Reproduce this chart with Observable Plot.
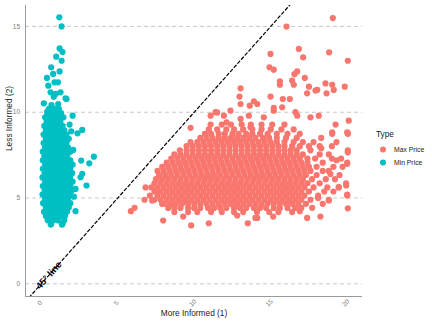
<!DOCTYPE html>
<html>
<head>
<meta charset="utf-8">
<script src="https://cdn.jsdelivr.net/npm/d3@7"></script>
<script src="https://cdn.jsdelivr.net/npm/@observablehq/plot@0.6"></script>
<style>
  body { margin: 0; background: #fff; }
  #wrap { position: relative; width: 432px; height: 324px; font-family: "Liberation Sans", Arial, sans-serif; }
  #legend { position: absolute; left: 376px; top: 129px; color: #222; }
  #legend .title { font-size: 8.3px; margin-bottom: 4px; }
  #legend .item { display: flex; align-items: center; font-size: 6.8px; height: 13px; }
  #legend svg { margin-right: 4px; }
</style>
</head>
<body>
<div id="wrap"></div>
<script>
// ---------- data ----------
const types = ["Max Price", "Min Price"];
const typeColors = ["#F8766D", "#00BFC4"];
const xTicks = [0, 5, 10, 15, 20];
const yTicks = [0, 5, 10, 15];
const xDomain = [-1.03, 21.0];
const yDomain = [-0.74, 16.22];
const xTitle = "More Informed (1)";
const yTitle = "Less Informed (2)";
const legendTitle = "Type";
const lineLabel = "45° line";
const lineLabelAt = 0.5;

// Min Price: dense core read row by row [y, xs]
const minPriceRows = [
  [3.45, [0.62, 1.35]],
  [3.7, [0.42, 0.78, 1.08, 1.5]],
  [3.95, [0.3, 0.6, 0.92, 1.22, 1.55]],
  [4.2, [0.18, 0.45, 0.75, 1.05, 1.38, 1.68]],
  [4.45, [0.3, 0.6, 0.9, 1.2, 1.5, 1.8]],
  [4.7, [0.12, 0.42, 0.72, 1.02, 1.32, 1.62, 1.9]],
  [4.95, [0.25, 0.55, 0.85, 1.15, 1.45, 1.75]],
  [5.2, [0.08, 0.38, 0.68, 0.98, 1.28, 1.58, 1.88]],
  [5.45, [0.22, 0.52, 0.82, 1.12, 1.42, 1.72, 2.0]],
  [5.7, [0.1, 0.4, 0.7, 1.0, 1.3, 1.6, 1.9]],
  [5.95, [0.25, 0.55, 0.85, 1.15, 1.45, 1.75, 2.05]],
  [6.2, [0.08, 0.38, 0.68, 0.98, 1.28, 1.58, 1.88]],
  [6.45, [0.22, 0.52, 0.82, 1.12, 1.42, 1.72, 2.02]],
  [6.7, [0.1, 0.4, 0.7, 1.0, 1.3, 1.6, 1.9]],
  [6.95, [0.25, 0.55, 0.85, 1.15, 1.45, 1.75, 2.05]],
  [7.2, [0.1, 0.4, 0.7, 1.0, 1.3, 1.6, 1.9]],
  [7.45, [0.2, 0.5, 0.8, 1.1, 1.4, 1.7]],
  [7.7, [0.1, 0.4, 0.7, 1.0, 1.3, 1.6, 1.9]],
  [7.95, [0.25, 0.55, 0.85, 1.15, 1.45, 1.75]],
  [8.2, [0.15, 0.45, 0.75, 1.05, 1.35, 1.65]],
  [8.45, [0.3, 0.6, 0.9, 1.2, 1.5, 1.8]],
  [8.7, [0.15, 0.45, 0.75, 1.05, 1.35, 1.65]],
  [8.95, [0.3, 0.6, 0.9, 1.2, 1.5]],
  [9.2, [0.2, 0.5, 0.8, 1.1, 1.4]],
  [9.45, [0.35, 0.65, 0.95, 1.25]],
  [9.7, [0.25, 0.55, 0.85, 1.15, 1.45]],
  [9.95, [0.4, 0.7, 1.0, 1.3]],
  [10.2, [0.5, 0.85, 1.15]]
];
// Min Price: scattered points [x, y]
const minPriceScatter = [
  [1.18,15.53],[1.33,15.0],[1.2,13.72],[1.39,13.51],[0.98,13.24],[1.33,13.0],[0.65,12.62],
  [1.2,12.38],[0.78,12.23],[0.37,12.0],[0.87,11.74],[1.09,11.74],[0.46,11.55],[0.61,11.16],
  [1.26,11.16],[0.95,11.07],[1.59,10.81],[0.17,10.52],[0.67,10.42],[1.11,10.48],[0.39,10.03],
  [2.05,9.8],[1.85,9.28],[2.68,8.97],[2.37,8.77],[1.96,8.89],[2.09,7.8],[3.44,7.41],[2.61,7.18],
  [3.14,7.02],[2.68,6.41],[2.57,6.21],[2.96,5.73],[2.24,5.53],[2.13,5.08],[2.24,4.23],
  [1.39,3.49],[0.65,3.49],[1.65,10.77],[0.82,10.9]
];

// Max Price: dense core read row by row [y, xs]
const maxPriceRows = [
  [4.18, [8.7, 9.6, 10.2, 11.1, 11.8, 12.6, 13.2, 14.1, 14.9, 15.5, 16.4]],
  [4.42, [8.3, 8.7, 9.1, 9.6, 10.0, 10.4, 10.9, 11.3, 11.7, 12.1, 12.6, 13.0, 13.4, 13.9, 14.3, 14.7, 15.2, 15.6, 16.1, 16.6, 17.0]],
  [4.66, [7.9, 8.4, 8.8, 9.2, 9.6, 10.0, 10.4, 10.8, 11.2, 11.6, 12.0, 12.4, 12.8, 13.2, 13.6, 14.0, 14.4, 14.8, 15.2, 15.6, 16.0, 16.4, 16.8, 17.3, 18.4]],
  [4.9, [6.75, 7.4, 7.8, 8.2, 8.6, 9.0, 9.4, 9.8, 10.2, 10.6, 11.0, 11.4, 11.8, 12.2, 12.6, 13.0, 13.4, 13.8, 14.2, 14.6, 15.0, 15.4, 15.8, 16.2, 16.6, 17.0, 17.6, 18.8]],
  [5.14, [7.1, 7.6, 8.0, 8.4, 8.8, 9.2, 9.6, 10.0, 10.4, 10.8, 11.2, 11.6, 12.0, 12.4, 12.8, 13.2, 13.6, 14.0, 14.4, 14.8, 15.2, 15.6, 16.0, 16.4, 16.8, 17.2, 18.1, 20.0]],
  [5.38, [7.4, 7.8, 8.2, 8.6, 9.0, 9.4, 9.8, 10.2, 10.6, 11.0, 11.4, 11.8, 12.2, 12.6, 13.0, 13.4, 13.8, 14.2, 14.6, 15.0, 15.4, 15.8, 16.2, 16.6, 17.0, 17.5, 18.5, 19.1]],
  [5.62, [6.82, 7.2, 7.6, 8.0, 8.4, 8.8, 9.2, 9.6, 10.0, 10.4, 10.8, 11.2, 11.6, 12.0, 12.4, 12.8, 13.2, 13.6, 14.0, 14.4, 14.8, 15.2, 15.6, 16.0, 16.4, 16.8, 17.2, 17.8, 18.7, 19.45]],
  [5.86, [7.4, 7.8, 8.2, 8.6, 9.0, 9.4, 9.8, 10.2, 10.6, 11.0, 11.4, 11.8, 12.2, 12.6, 13.0, 13.4, 13.8, 14.2, 14.6, 15.0, 15.4, 15.8, 16.2, 16.6, 17.0, 17.4, 18.2, 19.93]],
  [6.1, [7.5, 7.9, 8.3, 8.7, 9.1, 9.5, 9.9, 10.3, 10.7, 11.1, 11.5, 11.9, 12.3, 12.7, 13.1, 13.5, 13.9, 14.3, 14.7, 15.1, 15.5, 15.9, 16.3, 16.7, 17.1, 17.7, 18.6, 19.2]],
  [6.34, [7.7, 8.1, 8.5, 8.9, 9.3, 9.7, 10.1, 10.5, 10.9, 11.3, 11.7, 12.1, 12.5, 12.9, 13.3, 13.7, 14.1, 14.5, 14.9, 15.3, 15.7, 16.1, 16.5, 16.9, 17.3, 18.0, 19.5]],
  [6.58, [7.6, 8.0, 8.4, 8.8, 9.2, 9.6, 10.0, 10.4, 10.8, 11.2, 11.6, 12.0, 12.4, 12.8, 13.2, 13.6, 14.0, 14.4, 14.8, 15.2, 15.6, 16.0, 16.4, 16.8, 17.2, 17.6, 18.4, 18.8]],
  [6.82, [7.91, 8.3, 8.7, 9.1, 9.5, 9.9, 10.3, 10.7, 11.1, 11.5, 11.9, 12.3, 12.7, 13.1, 13.5, 13.9, 14.3, 14.7, 15.1, 15.5, 15.9, 16.3, 16.7, 17.1, 17.5, 18.0, 19.1, 19.7]],
  [7.06, [8.2, 8.6, 9.0, 9.4, 9.8, 10.2, 10.6, 11.0, 11.4, 11.8, 12.2, 12.6, 13.0, 13.4, 13.8, 14.2, 14.6, 15.0, 15.4, 15.8, 16.2, 16.6, 17.0, 17.4, 18.4, 20.0]],
  [7.3, [8.5, 8.9, 9.3, 9.7, 10.1, 10.5, 10.9, 11.3, 11.7, 12.1, 12.5, 12.9, 13.3, 13.7, 14.1, 14.5, 14.9, 15.3, 15.7, 16.1, 16.5, 16.9, 17.4, 17.9, 19.0, 19.6]],
  [7.54, [8.7, 9.1, 9.5, 9.9, 10.3, 10.7, 11.1, 11.5, 11.9, 12.3, 12.7, 13.1, 13.5, 13.9, 14.3, 14.7, 15.1, 15.5, 15.9, 16.3, 16.7, 17.1, 18.2, 18.8]],
  [7.78, [9.06, 9.5, 9.9, 10.3, 10.7, 11.1, 11.5, 11.9, 12.3, 12.7, 13.1, 13.5, 13.9, 14.3, 14.7, 15.1, 15.5, 15.9, 16.3, 16.7, 17.6, 20.04]],
  [8.02, [9.5, 9.9, 10.3, 10.7, 11.1, 11.5, 11.9, 12.3, 12.7, 13.1, 13.5, 13.9, 14.3, 14.7, 15.1, 15.5, 15.9, 16.4, 16.9, 17.5, 18.2, 19.0]],
  [8.26, [9.76, 10.2, 10.6, 11.0, 11.4, 11.8, 12.2, 12.6, 13.0, 13.4, 13.8, 14.2, 14.6, 15.0, 15.4, 15.9, 16.5, 17.1, 17.8, 19.3]],
  [8.5, [10.4, 10.8, 11.2, 11.6, 12.0, 12.4, 12.8, 13.2, 13.6, 14.0, 14.5, 14.9, 15.4, 16.0, 16.7, 18.3]],
  [8.74, [10.7, 11.1, 11.6, 12.0, 12.5, 12.9, 13.4, 13.8, 14.3, 14.8, 15.4, 16.1, 16.9, 19.02, 20.04]],
  [9.0, [10.95, 11.5, 12.1, 12.6, 13.2, 13.8, 14.4, 15.0, 15.7, 16.5]],
  [9.28, [11.07, 11.8, 12.4, 13.1, 13.7, 14.4, 15.1, 15.9, 19.24]]
];
// Max Price: scattered points [x, y]
const maxPriceScatter = [
  [19.06,15.49],[16.03,14.99],[14.99,13.4],[16.84,13.69],[18.82,13.49],[17.12,13.2],[20.04,13.0],
  [14.92,12.62],[15.2,12.48],[16.73,12.38],[16.55,12.22],[17.23,12.0],[16.4,11.84],[15.6,11.8],
  [15.6,11.6],[18.58,11.68],[19.02,11.6],[19.84,11.49],[17.5,11.49],[16.51,11.6],[18.04,11.3],
  [17.38,11.1],[17.93,11.26],[18.65,11.1],[19.12,11.3],[13.03,11.39],[12.96,10.91],[14.99,10.91],
  [15.79,10.77],[16.25,10.77],[13.03,10.48],[15.75,10.29],[13.9,10.64],[14.12,10.48],[13.63,10.38],
  [15.2,10.09],[15.2,10.25],[9.76,9.09],[11.07,9.8],[11.39,10.0],[12.37,10.09],[16.62,10.0],[16.73,9.8],
  [17.6,9.7],[18.14,9.8],[20.1,9.51],[20.04,8.79],[19.02,8.83],[11.5,9.99],[11.94,9.8],[12.11,9.41],
  [13.03,9.61],[13.57,9.8],[14.55,9.7],[13.68,9.12],
  [5.86,4.23],[6.1,4.43],[7.97,3.69],[9.8,3.4],[10.95,3.53],[9.28,3.92],[13.5,3.53],[14.12,3.84],
  [15.16,3.92],[17.38,3.84],[18.25,3.92],[20.04,4.4],[7.47,5.43],[7.25,4.85],[8.01,4.66],[12.81,3.98],
  [14.0,3.84],[16.9,4.23],[17.71,4.43],[18.8,4.85],[19.45,5.63],[20.0,5.2],[20.0,6.99],[20.0,8.83],
  [8.67,4.56],[9.43,4.85],[20.04,7.66],[19.93,5.73],[18.3,7.9],[18.9,6.4],[18.1,5.0],[19.3,7.2]
];

// ---------- assemble ----------
const fromRows = (rows, type) => rows.flatMap(([y, xs]) => xs.map(x => ({x, y, type})));
const fromPairs = (pairs, type) => pairs.map(([x, y]) => ({x, y, type}));
const points = [
  ...fromRows(maxPriceRows, types[0]), ...fromPairs(maxPriceScatter, types[0]),
  ...fromRows(minPriceRows, types[1]), ...fromPairs(minPriceScatter, types[1])
];

const plot = Plot.plot({
  width: 432, height: 324,
  marginLeft: 25, marginRight: 70, marginTop: 5, marginBottom: 28,
  style: { fontFamily: "'Liberation Sans', Arial, sans-serif", background: "white", overflow: "visible" },
  x: { domain: xDomain },
  y: { domain: yDomain },
  color: { domain: types, range: typeColors },
  marks: [
    Plot.ruleY(yTicks, { stroke: "#c8c8c8", strokeWidth: 1, strokeDasharray: "4,3" }),
    Plot.ruleX([xDomain[0]], { stroke: "#9a9a9a", strokeWidth: 1 }),
    Plot.ruleY([yDomain[0]], { stroke: "#9a9a9a", strokeWidth: 1 }),
    Plot.dot(points, { x: "x", y: "y", fill: "type", r: 3.1 }),
    Plot.line(xDomain, { x: d => d, y: d => d, stroke: "black", strokeWidth: 1.2, strokeDasharray: "3,2.5", clip: true }),
    Plot.text([lineLabel], { x: lineLabelAt, y: lineLabelAt, text: d => d, rotate: -48, fontSize: 9.5, fontWeight: "bold", fill: "black" }),
    Plot.axisY({ ticks: yTicks, tickSize: 0, tickPadding: 5.5, label: null, fontSize: 6.5, fill: "#7a7a7a" }),
    Plot.axisX({ ticks: [], label: null }),
    Plot.text(xTicks, { x: d => d, frameAnchor: "bottom", dy: 8, rotate: -45, text: d => String(d), fontSize: 6.5, fill: "#7a7a7a", textAnchor: "middle" }),
    Plot.text([xTitle], { frameAnchor: "bottom", dy: 19, text: d => d, fontSize: 8.3, fill: "#222" }),
    Plot.text([yTitle], { frameAnchor: "left", dx: -16, rotate: -90, text: d => d, fontSize: 8.3, fill: "#222" })
  ]
});

const wrap = document.getElementById("wrap");
wrap.appendChild(plot);

// legend (built from the color scale)
const color = plot.scale("color");
const legend = document.createElement("div");
legend.id = "legend";
const t = document.createElement("div");
t.className = "title";
t.textContent = legendTitle;
legend.appendChild(t);
types.forEach((ty, i) => {
  const item = document.createElement("div");
  item.className = "item";
  const fill = color.range[i];
  item.innerHTML = `<svg width="14" height="13"><circle cx="7" cy="6.5" r="3" fill="${fill}"></circle></svg><span>${ty}</span>`;
  legend.appendChild(item);
});
wrap.appendChild(legend);
</script>
</body>
</html>
